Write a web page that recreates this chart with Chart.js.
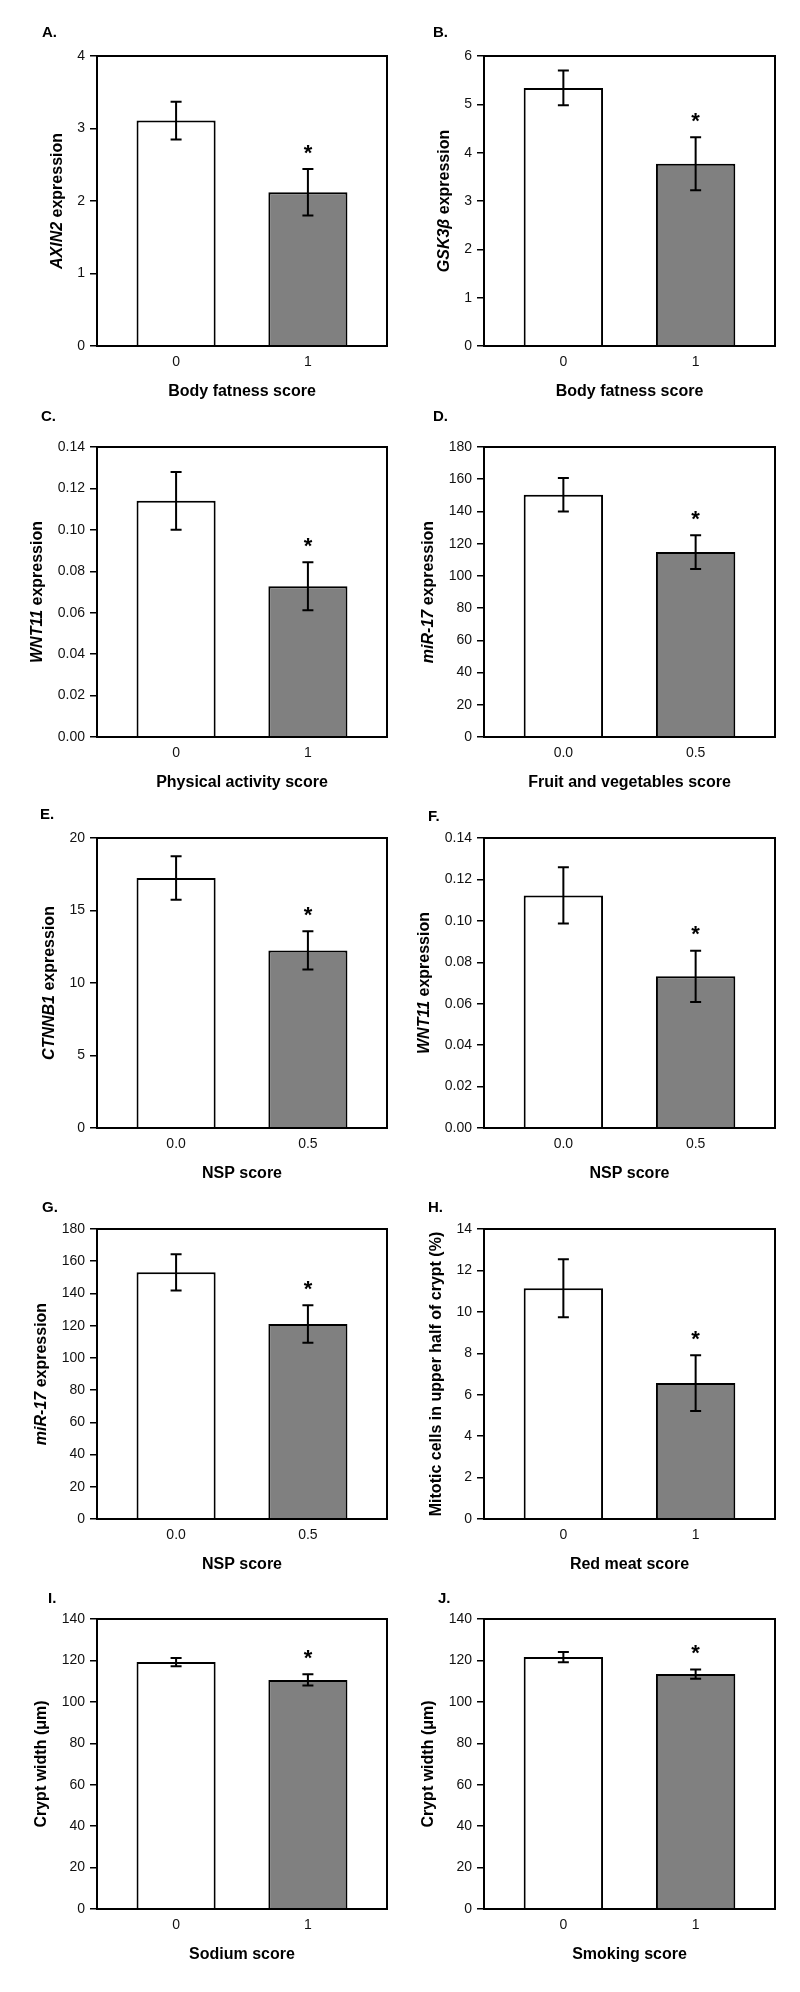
<!DOCTYPE html>
<html>
<head>
<meta charset="utf-8">
<script src="https://cdn.jsdelivr.net/npm/chart.js@4.4.1/dist/chart.umd.min.js"></script>
<style>
html,body{margin:0;padding:0;background:#fff;}
body{width:800px;height:1992px;position:relative;overflow:hidden;}
canvas.panel{position:absolute;}
</style>
</head>
<body>
<script>
// ---------------- data ----------------
const panelLetters = ['A.','B.','C.','D.','E.','F.','G.','H.','I.','J.'];
const scoreLevels01 = ['0','1'];
const scoreLevelsHalf = ['0.0','0.5'];
const xTitles = ['Body fatness score','Body fatness score','Physical activity score','Fruit and vegetables score',
                 'NSP score','NSP score','NSP score','Red meat score','Sodium score','Smoking score'];
// y titles: [text, italic]
const yTitles = [
  [['AXIN2',true],[' expression',false]],
  [['GSK3\u03B2',true],[' expression',false]],
  [['WNT11',true],[' expression',false]],
  [['miR-17',true],[' expression',false]],
  [['CTNNB1',true],[' expression',false]],
  [['WNT11',true],[' expression',false]],
  [['miR-17',true],[' expression',false]],
  [['Mitotic cells in upper half of crypt (%)',false]],
  [['Crypt width (\u03BCm)',false]],
  [['Crypt width (\u03BCm)',false]]
];

const axin2Mean   = [3.11, 2.12],    axin2SE   = [0.26, 0.32];
const gsk3bMean   = [5.34, 3.77],    gsk3bSE   = [0.36, 0.55];
const wnt11PaMean = [0.114, 0.0728], wnt11PaSE = [0.0139, 0.0116];
const mir17FvMean = [150.4, 114.8],  mir17FvSE = [10.4, 10.5];
const ctnnb1Mean  = [17.25, 12.25],  ctnnb1SE  = [1.5, 1.32];
const wnt11NspMean= [0.1123, 0.0732],wnt11NspSE= [0.0136, 0.0124];
const mir17NspMean= [153.1, 121.0],  mir17NspSE= [11.2, 11.6];
const mitoticMean = [11.14, 6.56],   mitoticSE = [1.4, 1.35];
const cryptNaMean = [119.2, 110.6],  cryptNaSE = [2.0, 2.7];
const cryptSmMean = [121.6, 113.4],  cryptSmSE = [2.5, 2.2];
const significant = [false, true];

const yMax      = [4, 6, 0.14, 180, 20, 0.14, 180, 14, 140, 140];
const yStep     = [1, 1, 0.02, 20, 5, 0.02, 20, 2, 20, 20];
const yDecimals = [0, 0, 2, 0, 0, 2, 0, 0, 0, 0];

const panelMeans = [axin2Mean, gsk3bMean, wnt11PaMean, mir17FvMean, ctnnb1Mean, wnt11NspMean, mir17NspMean, mitoticMean, cryptNaMean, cryptSmMean];
const panelSE    = [axin2SE, gsk3bSE, wnt11PaSE, mir17FvSE, ctnnb1SE, wnt11NspSE, mir17NspSE, mitoticSE, cryptNaSE, cryptSmSE];
const panelXLabels = [scoreLevels01, scoreLevels01, scoreLevels01, scoreLevelsHalf, scoreLevelsHalf, scoreLevelsHalf, scoreLevelsHalf, scoreLevels01, scoreLevels01, scoreLevels01];

// ---------------- layout ----------------
const FONT = "'Liberation Sans', Arial, Helvetica, sans-serif";
const colPlotLeft  = [97, 484];
const colPlotRight = [387, 775];
const rowPlotTop   = [56, 447, 838, 1228.5, 1619];
const plotH = 290, topMargin = 56, canvasH = 410, canvasW = 400;
const letterXY = [[42,33],[433,33],[41,417],[433,417],[40,815],[428,817],[42,1207],[428,1207],[48,1599],[438,1599]];
const barFill = ['#ffffff', '#808080'];

const TICK_LEN = 7, TICK_PAD = 5;

function makePlugin(i, cLeft, cTop) {
  return {
    id: 'decor' + i,
    afterDraw(chart) {
      const ctx = chart.ctx;
      const a = chart.chartArea;
      const xs = chart.scales.x, ys = chart.scales.y;
      ctx.save();
      // error bars
      ctx.strokeStyle = '#000';
      ctx.lineWidth = 2;
      const means = panelMeans[i], se = panelSE[i];
      means.forEach((m, k) => {
        const x = xs.getPixelForValue(k);
        const yt = ys.getPixelForValue(m + se[k]);
        const yb = ys.getPixelForValue(m - se[k]);
        ctx.beginPath();
        ctx.moveTo(x, yt); ctx.lineTo(x, yb);
        ctx.moveTo(x - 5.5, yt); ctx.lineTo(x + 5.5, yt);
        ctx.moveTo(x - 5.5, yb); ctx.lineTo(x + 5.5, yb);
        ctx.stroke();
        if (significant[k]) {
          ctx.font = 'bold 22px ' + FONT;
          ctx.fillStyle = '#000';
          ctx.textAlign = 'center';
          ctx.textBaseline = 'alphabetic';
          const mt = ctx.measureText('*');
          const asc = mt.actualBoundingBoxAscent, desc = mt.actualBoundingBoxDescent;
          const cy = yt - 20;
          ctx.fillText('*', x, cy + (asc - desc) / 2);
        }
      });
      // frame
      ctx.lineWidth = 2;
      ctx.strokeRect(a.left, a.top, a.right - a.left, a.bottom - a.top);
      // y title
      ctx.font = '14px ' + FONT;
      let maxW = 0;
      ys.ticks.forEach(t => { maxW = Math.max(maxW, ctx.measureText(String(t.label)).width); });
      const tx = a.left - TICK_LEN - TICK_PAD - maxW - 20;
      const ty = (a.top + a.bottom) / 2;
      const segs = yTitles[i];
      const fontFor = it => (it ? 'italic ' : '') + 'bold 16px ' + FONT;
      let total = 0;
      segs.forEach(s => { ctx.font = fontFor(s[1]); total += ctx.measureText(s[0]).width; });
      ctx.translate(tx, ty);
      ctx.rotate(-Math.PI / 2);
      ctx.textAlign = 'left';
      ctx.textBaseline = 'middle';
      ctx.fillStyle = '#000';
      let cx = -total / 2;
      segs.forEach(s => { ctx.font = fontFor(s[1]); ctx.fillText(s[0], cx, 0); cx += ctx.measureText(s[0]).width; });
      ctx.restore();
      // panel letter
      ctx.save();
      ctx.font = 'bold 15px ' + FONT;
      ctx.fillStyle = '#000';
      ctx.textAlign = 'left';
      ctx.textBaseline = 'middle';
      ctx.fillText(panelLetters[i], letterXY[i][0] - cLeft, letterXY[i][1] - cTop);
      ctx.restore();
    }
  };
}

for (let i = 0; i < 10; i++) {
  const col = i % 2, row = Math.floor(i / 2);
  const cLeft = col * 400, cTop = rowPlotTop[row] - topMargin;
  const cv = document.createElement('canvas');
  cv.className = 'panel';
  cv.width = canvasW; cv.height = canvasH;
  cv.style.left = cLeft + 'px'; cv.style.top = cTop + 'px';
  cv.style.width = canvasW + 'px'; cv.style.height = canvasH + 'px';
  document.body.appendChild(cv);
  const xl = panelXLabels[i];
  new Chart(cv.getContext('2d'), {
    type: 'bar',
    data: {
      datasets: [{
        data: panelMeans[i].map((v, k) => ({ x: k, y: v })),
        backgroundColor: barFill,
        borderColor: '#000',
        borderWidth: 2,
        categoryPercentage: 1,
        barPercentage: 0.6
      }]
    },
    options: {
      animation: false,
      responsive: false,
      maintainAspectRatio: false,
      devicePixelRatio: 1,
      layout: { padding: { top: topMargin, left: 0, right: cLeft + canvasW - colPlotRight[col], bottom: 0 } },
      plugins: { legend: { display: false }, tooltip: { enabled: false } },
      scales: {
        x: {
          type: 'linear', min: -0.6, max: 1.6, offset: false,
          grid: { display: false, drawTicks: false, offset: false },
          border: { display: false },
          afterBuildTicks: s => { s.ticks = xl.map((_, k) => ({ value: k })); },
          afterFit: s => { s.height = canvasH - topMargin - plotH; },
          ticks: {
            callback: (v, k) => xl[k],
            font: { family: FONT, size: 14 }, color: '#111',
            padding: 8, maxRotation: 0, minRotation: 0, autoSkip: false
          },
          title: {
            display: true, text: xTitles[i], color: '#000',
            font: { family: FONT, size: 16, weight: 'bold', lineHeight: 1.2 },
            padding: { top: 0, bottom: 8.4 }
          }
        },
        y: {
          min: 0, max: yMax[i],
          grid: { display: true, drawOnChartArea: false, drawTicks: true, tickLength: TICK_LEN, color: '#000', lineWidth: 1.5 },
          border: { display: false },
          afterFit: s => { s.width = colPlotLeft[col] - cLeft; },
          ticks: {
            stepSize: yStep[i], autoSkip: false,
            callback: v => Number(v).toFixed(yDecimals[i]),
            font: { family: FONT, size: 14 }, color: '#111', padding: TICK_PAD
          }
        }
      }
    },
    plugins: [makePlugin(i, cLeft, cTop)]
  });
}
</script>
</body>
</html>
